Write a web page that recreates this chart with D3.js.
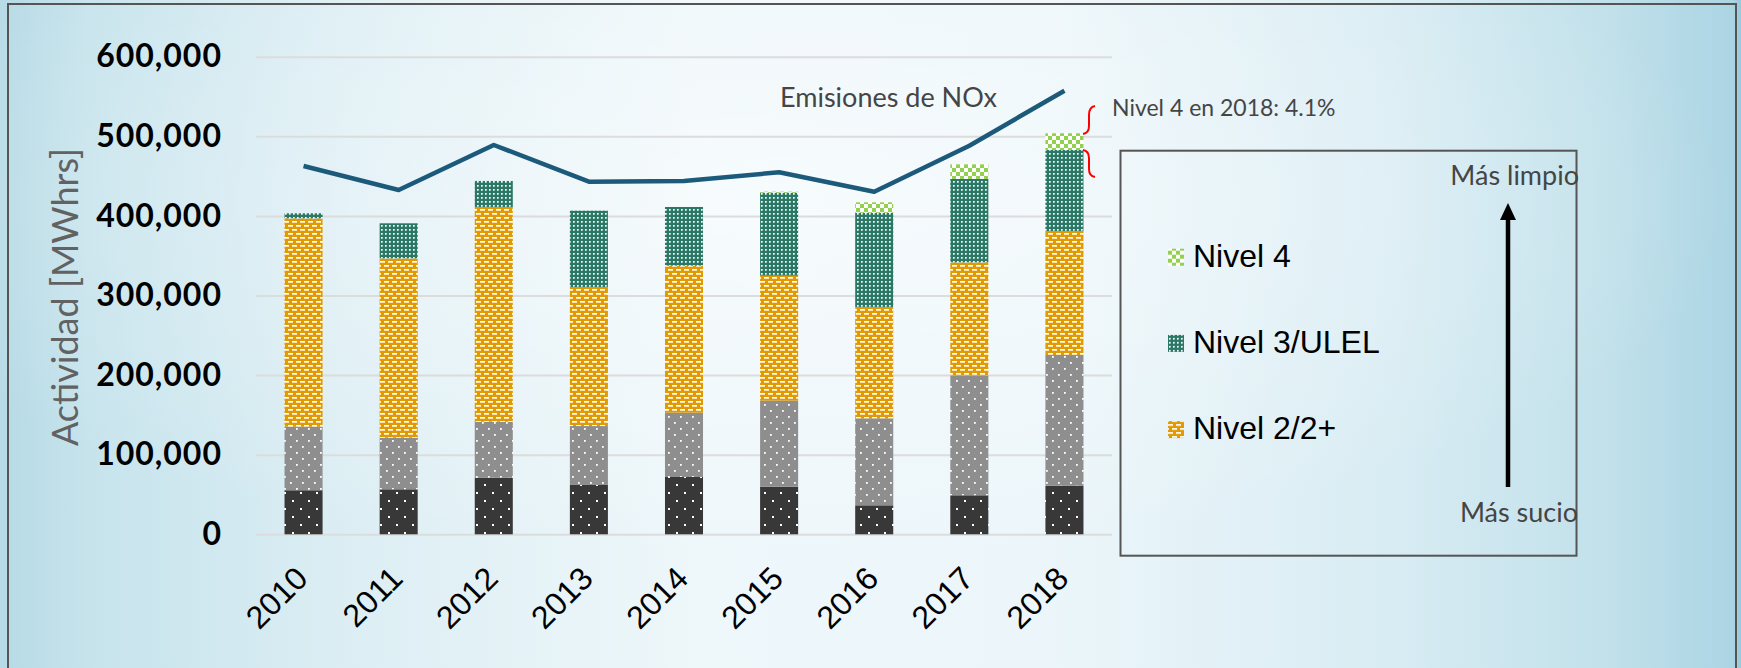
<!DOCTYPE html>
<html><head><meta charset="utf-8">
<script src="https://cdn.jsdelivr.net/npm/d3@7"></script>
<style>html,body{margin:0;padding:0;overflow:hidden;background:#e6f2f7;} svg{display:block}</style>
</head><body>
<svg id="chart" width="1741" height="668"></svg>
<script>
// ---- data ----
const years = ["2010","2011","2012","2013","2014","2015","2016","2017","2018"];
const nivel0 = [55300, 56500, 71100, 62000, 72000, 59800, 36400, 49000, 61100];      // dark, dotted
const nivel1 = [79900, 64900, 70400, 74000, 80800, 108100, 109300, 150300, 164200];  // grey, dotted
const nivel2 = [261800, 225300, 269300, 174300, 184700, 157000, 139900, 142400, 155700]; // Nivel 2/2+
const nivel3 = [6300, 44000, 33100, 96300, 73700, 104300, 118400, 104700, 101800];   // Nivel 3/ULEL
const nivel4 = [0, 0, 0, 0, 0, 1300, 13100, 18400, 21000];                           // Nivel 4
const noxEmissions = [462700, 432500, 489100, 443000, 443900, 454800, 430400, 488200, 557300];
const yTicks = [0, 100000, 200000, 300000, 400000, 500000, 600000];
const seriesKeys = ["nivel0","nivel1","nivel2","nivel3","nivel4"];
const legendItems = ["Nivel 4","Nivel 3/ULEL","Nivel 2/2+"];

const table = years.map((yr,i)=>({year:yr, nivel0:nivel0[i], nivel1:nivel1[i], nivel2:nivel2[i], nivel3:nivel3[i], nivel4:nivel4[i]}));

const svg = d3.select("#chart");
const defs = svg.append("defs");

// background
const bg = defs.append("linearGradient").attr("id","bg").attr("x1",0).attr("x2",1).attr("y1",0).attr("y2",0);
[[0,"#b6dae6"],[0.05,"#c6e3ec"],[0.2,"#dceef4"],[0.4,"#eef7fa"],[0.6,"#ecf6fa"],[0.8,"#d8ecf3"],[0.92,"#c2e1eb"],[0.995,"#acd5e4"],[1,"#98c9dc"]]
  .forEach(s=>bg.append("stop").attr("offset",s[0]).attr("stop-color",s[1]));
const glow = defs.append("radialGradient").attr("id","glow").attr("cx",0.45).attr("cy",0.3).attr("r",0.55);
glow.append("stop").attr("offset",0).attr("stop-color","#ffffff").attr("stop-opacity",0.5);
glow.append("stop").attr("offset",1).attr("stop-color","#ffffff").attr("stop-opacity",0);

function pat(id,w,h,base,shapes){
  const p = defs.append("pattern").attr("id",id).attr("patternUnits","userSpaceOnUse").attr("width",w).attr("height",h);
  p.append("rect").attr("width",w).attr("height",h).attr("fill",base);
  shapes.forEach(s=>p.append("rect").attr("x",s[0]).attr("y",s[1]).attr("width",s[2]).attr("height",s[3]).attr("fill",s[4]||"#ffffff"));
}
pat("pDark",16,16,"#383838",[[4,4,2,2],[12,12,2,2]]);
pat("pGrey",12,12,"#8e8e8e",[[2,2,1.8,1.8],[8,8,1.8,1.8]]);
pat("pOrange",8,8,"#e29a00",[[0,1,5,1.7],[4,5,5,1.7],[-4,5,5,1.7]]);
pat("pTeal",4,4,"#2a7866",[[1,1,1.7,1.7]]);
pat("pGreen",8,8,"#ffffff",[[0,0,4,4,"#92d050"],[4,4,4,4,"#92d050"]]);
const fills = {nivel0:"url(#pDark)", nivel1:"url(#pGrey)", nivel2:"url(#pOrange)", nivel3:"url(#pTeal)", nivel4:"url(#pGreen)"};
const legendFills = {"Nivel 4":"url(#pGreen)","Nivel 3/ULEL":"url(#pTeal)","Nivel 2/2+":"url(#pOrange)"};

svg.append("rect").attr("width",1741).attr("height",668).attr("fill","url(#bg)");
svg.append("rect").attr("width",1741).attr("height",668).attr("fill","url(#glow)");

// frame
svg.append("path").attr("d","M8,668 L8,4 L1736,4 L1736,668").attr("fill","none").attr("stroke","#555").attr("stroke-width",2);

// scales
const x = d3.scaleBand().domain(years).range([256,1112]).paddingInner(0.6).paddingOuter(0.3);
const y = d3.scaleLinear().domain([0,600000]).range([534.3,56.7]);

// y axis with gridlines
const yAxis = svg.append("g").attr("transform","translate(256,0)")
  .call(d3.axisLeft(y).tickValues(yTicks).tickFormat(d3.format(",")).tickSize(-856).tickPadding(34));
yAxis.select(".domain").remove();
yAxis.selectAll(".tick line").attr("stroke","#dcdcdc").attr("stroke-width",2);
yAxis.selectAll(".tick text").attr("fill","#000").style("font-family","Lato, sans-serif").style("font-weight","700")
  .style("font-size","32px").style("letter-spacing","1px");

// x axis
const xAxis = svg.append("g").attr("transform","translate(0,534.3)").call(d3.axisBottom(x).tickSize(0));
xAxis.select(".domain").remove();
xAxis.selectAll(".tick text").attr("x",0).attr("y",0).attr("dy",0)
  .attr("transform","translate(6,46) rotate(-45)").attr("text-anchor","end")
  .attr("fill","#000").style("font-family","'Liberation Sans', Arial, sans-serif").style("font-size","32px");

// stacked bars
const stacked = d3.stack().keys(seriesKeys)(table);
svg.append("g").selectAll("g").data(stacked).join("g").attr("fill",d=>fills[d.key])
  .selectAll("rect").data(d=>d.filter(p=>p[1]-p[0]>0)).join("rect")
  .attr("x",d=>x(d.data.year)).attr("width",x.bandwidth())
  .attr("y",d=>y(d[1])).attr("height",d=>y(d[0])-y(d[1]));

// NOx line
const line = d3.line().x((d,i)=>x(years[i])+x.bandwidth()/2).y(d=>y(d));
svg.append("path").datum(noxEmissions).attr("d",line).attr("fill","none")
  .attr("stroke","#1c5a7b").attr("stroke-width",4.5).attr("stroke-linejoin","round");

const annoFont = "Lato, 'Open Sans', sans-serif";
svg.append("text").attr("x",780).attr("y",106.7).text("Emisiones de NOx")
  .attr("fill","#454545").style("font-family",annoFont).style("font-size","27px");

// red brace
svg.append("path").attr("d","M1095,106 Q1089,107 1089,115 L1089,126 Q1089,133 1083,134 M1083,150 Q1089,151 1089,158 L1089,169 Q1089,176 1095,177")
  .attr("fill","none").attr("stroke","#ff0000").attr("stroke-width",2);
svg.append("text").attr("x",1112).attr("y",116).text("Nivel 4 en 2018: 4.1%")
  .attr("fill","#454545").style("font-family",annoFont).style("font-size","23px");

// y title
svg.append("text").attr("transform","translate(78,297) rotate(-90)").attr("text-anchor","middle")
  .text("Actividad [MWhrs]").attr("fill","#626262").style("font-family",annoFont).style("font-size","36px");

// legend box
svg.append("rect").attr("x",1120.5).attr("y",150.7).attr("width",456).attr("height",405)
  .attr("fill","none").attr("stroke","#555").attr("stroke-width",2);
const lg = svg.append("g").selectAll("g").data(legendItems).join("g")
  .attr("transform",(d,i)=>`translate(1168,${266.7+i*86.2})`);
lg.append("rect").attr("x",0).attr("y",-18).attr("width",16).attr("height",17).attr("fill",d=>legendFills[d]);
lg.append("text").attr("x",25).attr("y",0).text(d=>d).attr("fill","#000")
  .style("font-family","'Liberation Sans', Arial, sans-serif").style("font-size","32px");

// arrow
svg.append("line").attr("x1",1508).attr("x2",1508).attr("y1",487).attr("y2",218).attr("stroke","#000").attr("stroke-width",4.5);
svg.append("path").attr("d","M1508,203 L1516,220 L1500,220 Z").attr("fill","#000");
svg.append("text").attr("x",1579).attr("y",185).attr("text-anchor","end").text("Más limpio")
  .attr("fill","#454545").style("font-family",annoFont).style("font-size","27px");
svg.append("text").attr("x",1578).attr("y",521.7).attr("text-anchor","end").text("Más sucio")
  .attr("fill","#454545").style("font-family",annoFont).style("font-size","27px");
</script>
</body></html>
